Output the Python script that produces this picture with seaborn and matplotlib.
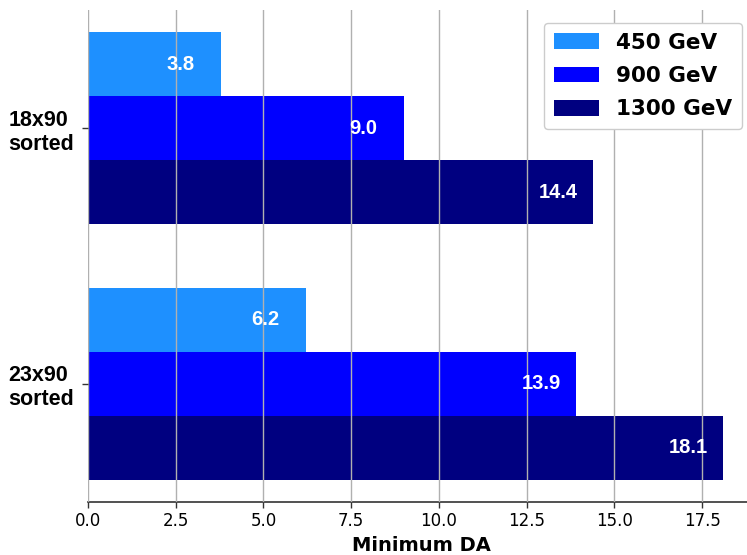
import pandas as pd
import numpy as np
import matplotlib
matplotlib.use("Agg")
import matplotlib.pyplot as plt
import seaborn as sns

# ---------------------------------------------------
# Data
# ---------------------------------------------------
configs = ["18x90\nsorted", "23x90\nsorted"]
energies = ["450 GeV", "900 GeV", "1300 GeV"]
da_450 = [3.8, 6.2]
da_900 = [9.0, 13.9]
da_1300 = [14.4, 18.1]
colors = ["#1e90ff", "#0000ff", "#000080"]

rows = []
for e, vals in zip(energies, [da_450, da_900, da_1300]):
    for c, v in zip(configs, vals):
        rows.append({"config": c, "energy": e, "da": v})
df = pd.DataFrame(rows)

# ---------------------------------------------------
# Plot
# ---------------------------------------------------
plt.rcParams["font.family"] = ["DejaVu Sans"]
fig = plt.figure(figsize=(7.47, 5.55), dpi=100)
# axes runs a little past the right edge, like a cropped figure
ax = fig.add_axes([0.1178, 0.0955, 0.8928, 0.8865])

sns.barplot(data=df, x="da", y="config", hue="energy", orient="h",
            palette=colors, saturation=1, width=0.75, ax=ax,
            edgecolor="none", linewidth=0)

# value labels inside the bars
for cont in ax.containers:
    for bar in cont:
        v = bar.get_width()
        yc = bar.get_y() + bar.get_height() / 2
        ax.text(v - 1.55, yc, f"{v:.1f}", ha="left", va="center",
                color="white", fontsize=14.5, fontweight="bold",
                family="Liberation Sans", zorder=4)

ax.set_xlim(0, 18.1 * 1.05)
ax.set_ylim(1.4625, -0.4625)
ax.set_xticks(np.arange(0, 17.6, 2.5))
ax.set_xlabel("Minimum DA", fontsize=14, fontweight="bold", labelpad=4, color="black")
ax.set_ylabel("")
ax.tick_params(axis="x", labelsize=12, length=4, width=1, color="#333333",
               labelcolor="black", bottom=True)
ax.tick_params(axis="y", length=4, width=1, color="#333333", left=True, pad=6)
for lab in ax.get_yticklabels():
    lab.set_fontfamily("Liberation Sans")
    lab.set_fontweight("bold")
    lab.set_fontsize(15.5)
    lab.set_multialignment("left")
    lab.set_color("black")

ax.grid(axis="x", color="#b0b0b0", linewidth=1)
ax.grid(axis="y", visible=False)
ax.set_axisbelow(False)
for s in ["top", "right", "left"]:
    ax.spines[s].set_visible(False)
ax.spines["bottom"].set_color("#333333")
ax.spines["bottom"].set_linewidth(1.2)

leg = ax.legend(loc="upper right", prop={"weight": "bold", "size": 15.5},
                handlelength=2.1, handleheight=0.75, labelspacing=0.62,
                borderpad=0.45, borderaxespad=0.6, framealpha=1, edgecolor="#cccccc")
leg.get_frame().set_linewidth(1)

fig.savefig("out.png", dpi=100)
